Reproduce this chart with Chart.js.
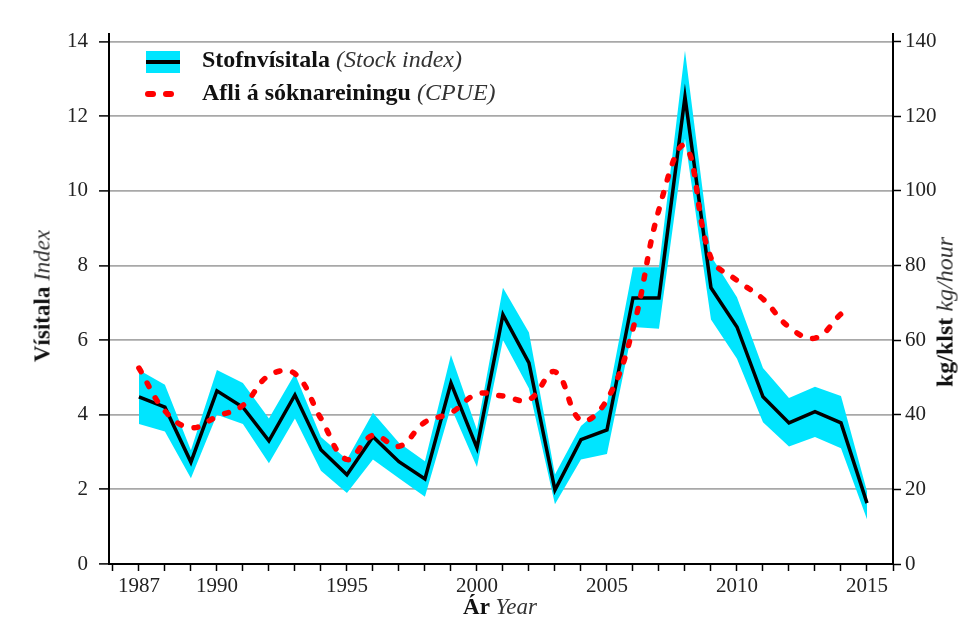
<!DOCTYPE html>
<html>
<head>
<meta charset="utf-8">
<script src="https://cdn.jsdelivr.net/npm/chart.js@4.4.1/dist/chart.umd.min.js"></script>
<style>
  body { margin: 0; background: #fff; }
  #wrap { position: relative; width: 968px; height: 628px; font-family: "Liberation Serif", "Times New Roman", serif; color: #111; }
  #chart { position: absolute; left: 0; top: 0; }
  .txt { position: absolute; white-space: nowrap; font-size: 23px; line-height: 23px; }
  .legend { font-size: 24px; line-height: 24px; }
  .txt b { font-weight: bold; }
  .txt i { font-style: italic; color: #333; }
  .rot { transform-origin: center center; transform: translate(-50%, -50%) rotate(-90deg); }
  #legendBand { position: absolute; left: 146px; top: 51px; width: 34px; height: 22px; background: #00e5ff; }
  #legendBand div { position: absolute; left: 0; top: 9px; width: 34px; height: 3.5px; background: #000; }
  .dash { position: absolute; top: 91px; width: 11px; height: 6px; border-radius: 3px; background: #ff0000; }
</style>
</head>
<body>
<div id="wrap">
  <canvas id="chart" width="968" height="628"></canvas>
  <div id="legendBand"><div></div></div>
  <div class="dash" style="left:145px"></div>
  <div class="dash" style="left:163px"></div>
  <div class="txt legend" style="left:202px; top:47px"><b>Stofnvísitala</b> <i>(Stock index)</i></div>
  <div class="txt legend" style="left:202px; top:80px"><b>Afli á sóknareiningu</b> <i>(CPUE)</i></div>
  <div class="txt rot" style="left:42px; top:296px"><b>Vísitala</b> <i>Index</i></div>
  <div class="txt rot" style="left:945px; top:312px; font-size:24px"><b>kg/klst</b> <i>kg/hour</i></div>
  <div class="txt" style="left:500px; top:595px; transform: translateX(-50%)"><b>Ár</b> <i>Year</i></div>
</div>
<script>
const years = [1987, 1988, 1989, 1990, 1991, 1992, 1993, 1994, 1995, 1996, 1997, 1998, 1999, 2000,
    2001, 2002, 2003, 2004, 2005, 2006, 2007, 2008, 2009, 2010, 2011, 2012, 2013, 2014, 2015];
const stockIndex = [4.48, 4.2, 2.73, 4.64, 4.2, 3.3, 4.53, 3.06, 2.39, 3.41, 2.74, 2.28, 4.85, 3.11,
    6.68, 5.39, 1.98, 3.33, 3.59, 7.13, 7.13, 12.52, 7.4, 6.35, 4.48, 3.78, 4.08, 3.78, 1.63];
const stockUpper = [5.2, 4.8, 3.05, 5.2, 4.85, 3.9, 5.1, 3.4, 2.8, 4.05, 3.25, 2.75, 5.6, 3.6,
    7.4, 6.2, 2.4, 3.7, 4.3, 7.95, 7.95, 13.75, 8.25, 7.15, 5.25, 4.45, 4.75, 4.5, 1.95];
const stockLower = [3.75, 3.55, 2.3, 4.0, 3.75, 2.7, 3.9, 2.5, 1.9, 2.8, 2.3, 1.8, 4.2, 2.6,
    6.0, 4.7, 1.6, 2.8, 2.95, 6.35, 6.3, 11.4, 6.55, 5.5, 3.8, 3.15, 3.4, 3.1, 1.2];
const cpueYears = years.slice(0, 28);
const cpue = [52.5, 41, 36.5, 39.5, 42.5, 50.5, 51, 39, 28, 34.5, 31.5, 38, 40.5, 45.5,
    45, 44, 51.5, 38.5, 44, 63, 95, 112, 82, 76, 71, 63.5, 60.5, 67];
const yearLabels = [1987, 1990, 1995, 2000, 2005, 2010, 2015];
const indexTicks = [0, 2, 4, 6, 8, 10, 12, 14];
const cpueTicks = [0, 20, 40, 60, 80, 100, 120, 140];

const CYAN = "#00e5ff";
const toPoints = (xs, ys) => xs.map((x, i) => ({x: x, y: ys[i]}));
const tickFont = {family: "Liberation Serif", size: 21};

new Chart(document.getElementById("chart"), {
    type: "line",
    data: {
        datasets: [
            {
                data: toPoints(cpueYears, cpue),
                yAxisID: "y2",
                borderColor: "#ff0000",
                borderWidth: 5.5,
                borderDash: [4, 13],
                borderCapStyle: "round",
                tension: 0.4,
                pointRadius: 0,
                fill: false,
                order: 0
            },
            {
                data: toPoints(years, stockIndex),
                yAxisID: "y",
                borderColor: "#000",
                borderWidth: 3.5,
                tension: 0,
                pointRadius: 0,
                fill: false,
                order: 1
            },
            {
                data: toPoints(years, stockUpper),
                yAxisID: "y",
                borderWidth: 0,
                borderColor: CYAN,
                backgroundColor: CYAN,
                pointRadius: 0,
                fill: "+1",
                order: 2
            },
            {
                data: toPoints(years, stockLower),
                yAxisID: "y",
                borderWidth: 0,
                borderColor: CYAN,
                pointRadius: 0,
                fill: false,
                order: 3
            }
        ]
    },
    options: {
        responsive: false,
        animation: false,
        layout: {padding: {top: 34, left: 0, right: 0, bottom: 0}},
        plugins: {legend: {display: false}, tooltip: {enabled: false}},
        scales: {
            x: {
                type: "linear",
                min: 1985.85,
                max: 2016,
                afterFit: (scale) => { scale.height = 64; },
                border: {color: "#000", width: 2},
                grid: {drawOnChartArea: false, tickLength: 7, tickColor: "#000", tickWidth: 1.5},
                ticks: {
                    stepSize: 1,
                    includeBounds: false,
                    autoSkip: false,
                    maxRotation: 0,
                    padding: 3,
                    color: "#222",
                    font: tickFont,
                    callback: (v) => yearLabels.includes(v) ? String(v) : ""
                }
            },
            y: {
                position: "left",
                min: 0,
                max: 14.2,
                afterFit: (scale) => { scale.width = 109; },
                border: {color: "#000", width: 2},
                grid: {
                    color: (ctx) => ctx.tick && ctx.tick.value === 0 ? "rgba(0,0,0,0)" : "#a8a8a8",
                    lineWidth: 1.8,
                    tickLength: 10,
                    tickColor: "#000",
                    tickWidth: 1.5
                },
                afterBuildTicks: (scale) => { scale.ticks = indexTicks.map(v => ({value: v})); },
                ticks: {padding: 11, color: "#222", font: tickFont}
            },
            y2: {
                position: "right",
                min: 0,
                max: 142,
                afterFit: (scale) => { scale.width = 75; },
                border: {color: "#000", width: 2},
                grid: {drawOnChartArea: false, tickLength: 8, tickColor: "#000", tickWidth: 1.5},
                afterBuildTicks: (scale) => { scale.ticks = cpueTicks.map(v => ({value: v})); },
                ticks: {padding: 4, color: "#222", font: tickFont}
            }
        }
    }
});
</script>
</body>
</html>
